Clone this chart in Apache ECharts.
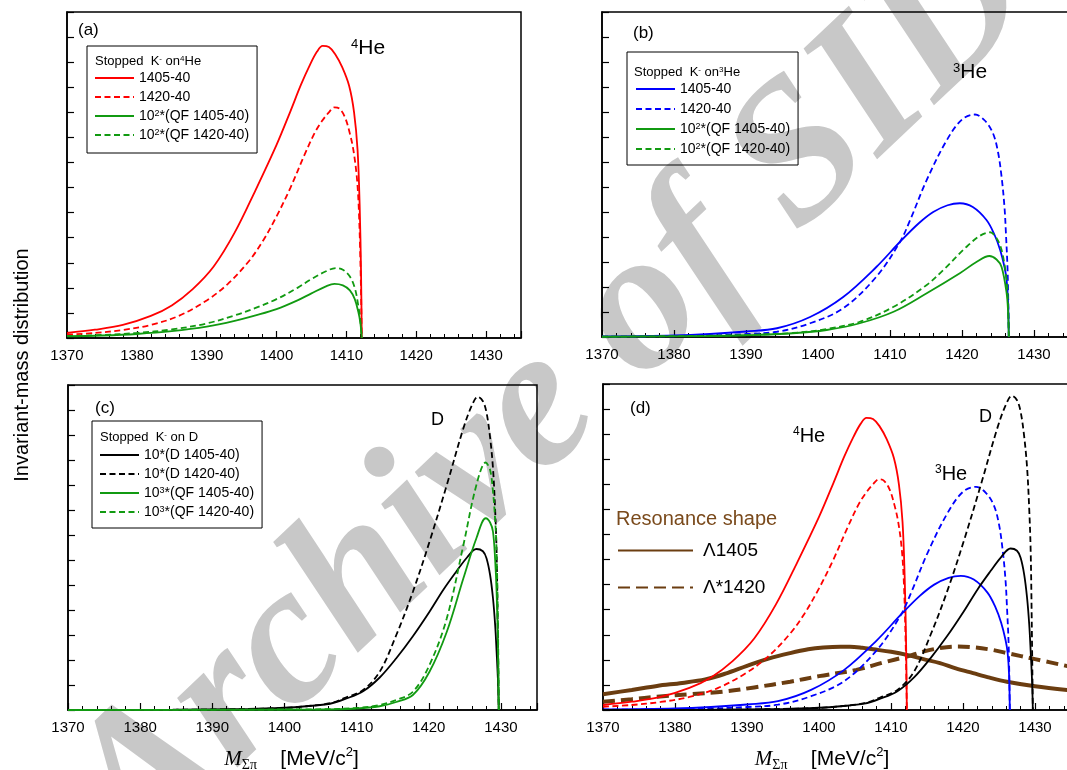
<!DOCTYPE html>
<html>
<head>
<meta charset="utf-8">
<script src="https://cdn.jsdelivr.net/npm/echarts/dist/echarts.min.js"></script>
<style>
  html, body { margin: 0; padding: 0; background: #fff; }
  #chart { width: 1067px; height: 770px; }
</style>
</head>
<body>
<div id="chart"></div>
<script>
  let FONT = 'Liberation Sans';
  let xTickLabels = [1370, 1380, 1390, 1400, 1410, 1420, 1430];

  // (a) stopped K- on 4He  [M, yield]
  let he4_1405 = [[1370,0.2],[1374,0.33],[1378,0.52],[1382,0.88],[1385,1.3],[1388,1.95],[1391,2.85],[1394,4.2],[1397,5.9],[1400,7.7],[1402,9.05],[1403.5,10.1],[1404.8,10.9],[1405.8,11.42],[1406.6,11.65],[1407.5,11.6],[1408.4,11.32],[1409.4,10.8],[1410.4,10.05],[1411.1,9.0],[1411.6,7.5],[1411.9,5.3],[1412.1,2.6],[1412.2,0]];
  let he4_1420 = [[1370,0.13],[1374,0.2],[1378,0.32],[1382,0.52],[1386,0.88],[1390,1.5],[1393,2.15],[1396,3.05],[1398,3.85],[1400,4.85],[1402,6.0],[1404,7.3],[1405.5,8.2],[1406.5,8.65],[1407.5,9.0],[1408.3,9.2],[1409,9.15],[1409.8,8.8],[1410.5,8.15],[1411,7.5],[1411.5,6.4],[1411.8,5.0],[1412.05,2.5],[1412.2,0]];
  let he4_qf1405 = [[1370,0.07],[1375,0.1],[1380,0.16],[1385,0.27],[1390,0.45],[1394,0.68],[1397,0.9],[1400,1.15],[1403,1.5],[1405,1.78],[1407,2.05],[1408.3,2.16],[1409.5,2.1],[1410.5,1.9],[1411.2,1.55],[1411.7,1.05],[1412,0.6],[1412.2,0]];
  let he4_qf1420 = [[1370,0.08],[1375,0.12],[1380,0.2],[1385,0.34],[1390,0.58],[1394,0.9],[1397,1.2],[1400,1.55],[1403,2.0],[1405,2.35],[1407,2.65],[1408.5,2.79],[1409.5,2.72],[1410.5,2.45],[1411.2,2.0],[1411.7,1.3],[1412,0.7],[1412.2,0]];

  // (b) stopped K- on 3He
  let he3_1405 = [[1370,0.02],[1380,0.06],[1385,0.12],[1390,0.22],[1394.3,0.35],[1398.9,0.8],[1403.5,1.6],[1408.1,2.8],[1411.4,3.81],[1414,4.55],[1416,5.0],[1418,5.27],[1419.7,5.35],[1421.5,5.2],[1423.4,4.68],[1424.5,4.1],[1425.3,3.48],[1425.9,2.8],[1426.2,2.28],[1426.4,1.4],[1426.5,0]];
  let he3_1420 = [[1370,0.01],[1380,0.03],[1385,0.06],[1390,0.12],[1394.3,0.21],[1398.9,0.55],[1403.5,1.15],[1408.1,2.41],[1411.4,3.81],[1412.8,4.68],[1415.1,6.28],[1417.9,7.88],[1420,8.7],[1421.8,8.9],[1423.2,8.65],[1424.3,8.15],[1425,7.4],[1425.5,6.4],[1425.9,5.2],[1426.1,4.15],[1426.35,2.5],[1426.5,0]];
  let he3_qf1405 = [[1370,0.01],[1385,0.04],[1390,0.07],[1396.5,0.15],[1401.2,0.28],[1405.8,0.55],[1410.5,1.01],[1415.1,1.75],[1419.7,2.55],[1422,3.0],[1423.8,3.24],[1424.8,3.1],[1425.5,2.8],[1426.2,1.75],[1426.4,1.0],[1426.5,0]];
  let he3_qf1420 = [[1370,0.01],[1385,0.05],[1390,0.08],[1396.5,0.16],[1401.2,0.32],[1405.8,0.61],[1410.5,1.21],[1415.1,2.08],[1417.4,2.68],[1420.6,3.6],[1422.5,4.05],[1423.9,4.19],[1424.8,3.95],[1425.5,3.48],[1426.2,2.28],[1426.4,1.3],[1426.5,0]];

  // (c) stopped K- on D
  let d_1405 = [[1370,0],[1385,0.01],[1395,0.04],[1400,0.09],[1403,0.15],[1406.3,0.25],[1408.5,0.45],[1410.9,0.75],[1413.2,1.3],[1415.5,2.07],[1417.8,2.95],[1420.1,3.93],[1422,4.8],[1423.8,5.53],[1425.3,6.1],[1426.6,6.44],[1427.5,6.35],[1428,6.07],[1428.5,5.4],[1428.9,4.47],[1429.2,3.4],[1429.4,2.33],[1429.6,1.1],[1429.7,0]];
  let d_1420 = [[1370,0],[1385,0.01],[1395,0.04],[1400,0.08],[1403,0.15],[1406.3,0.27],[1408.5,0.5],[1410.9,0.8],[1413.2,1.53],[1415.5,3.0],[1417.8,4.73],[1420.1,6.73],[1422.5,9.0],[1424.8,11.27],[1426,12.2],[1426.8,12.53],[1427.5,12.35],[1428,11.9],[1428.5,10.9],[1428.9,9.67],[1429.2,8.0],[1429.4,6.33],[1429.55,3.5],[1429.7,0]];
  let d_qf1405 = [[1370,0],[1405,0.02],[1410,0.06],[1413.2,0.15],[1415.5,0.32],[1417.8,0.6],[1420.1,1.53],[1422.5,3.13],[1424.8,5.27],[1426.6,6.87],[1427.9,7.67],[1428.5,7.5],[1428.9,7.13],[1429.2,6.0],[1429.4,4.73],[1429.6,2.4],[1429.7,0]];
  let d_qf1420 = [[1370,0],[1405,0.03],[1410,0.08],[1413.2,0.2],[1415.5,0.4],[1417.8,0.73],[1420.1,1.8],[1422.5,3.67],[1424.8,6.6],[1426.6,9.0],[1427.9,9.9],[1428.5,9.6],[1428.9,8.73],[1429.2,7.6],[1429.4,6.33],[1429.6,3.2],[1429.7,0]];

  // (d) resonance shapes
  let res_1405 = [[1370,0.63],[1374,0.8],[1377.5,0.96],[1381,1.08],[1384.2,1.22],[1387,1.45],[1390,1.76],[1393,2.05],[1396,2.27],[1398.5,2.42],[1400.6,2.49],[1403,2.52],[1404.3,2.52],[1406,2.48],[1407.5,2.42],[1410,2.32],[1412.2,2.2],[1414.5,2.03],[1416.8,1.87],[1419,1.66],[1421.4,1.47],[1423.7,1.29],[1426.1,1.13],[1430,0.95],[1435,0.78]];
  let res_1420 = [[1370,0.33],[1374,0.43],[1377.5,0.53],[1382,0.63],[1386.7,0.73],[1391,0.9],[1396,1.13],[1400,1.35],[1405.2,1.6],[1409,1.9],[1412.2,2.13],[1414.5,2.33],[1416.8,2.47],[1419.1,2.53],[1421.4,2.5],[1424,2.4],[1426.1,2.27],[1430,2.03],[1435,1.72]];

  let legendText = {
    a1: '1405-40', a2: '1420-40', a3: '10{sup|2}*(QF 1405-40)', a4: '10{sup|2}*(QF 1420-40)',
    b1: '1405-40', b2: '1420-40', b3: '10{sup|2}*(QF 1405-40)', b4: '10{sup|2}*(QF 1420-40)',
    c1: '10*(D 1405-40)', c2: '10*(D 1420-40)', c3: '10{sup|3}*(QF 1405-40)', c4: '10{sup|3}*(QF 1420-40)',
    r1: 'Λ1405', r2: 'Λ*1420'
  };

  let RED = '#ff0000', BLUE = '#0000ff', GREEN = '#119a11', BLACK = '#000000', BROWN = '#6b3d10';

  function line(name, data, idx, color, dashed, width, dash) {
    return {
      name: name, type: 'line', xAxisIndex: idx, yAxisIndex: idx, data: data,
      symbol: 'none', smooth: 0.35, silent: true,
      lineStyle: {color: color, width: width || 1.8, type: dashed ? (dash || [6, 3.5]) : 'solid'},
      itemStyle: {color: color}
    };
  }

  function xAxis(idx, name, pad) {
    return {
      gridIndex: idx, type: 'value', min: 1370, max: 1435, interval: 10,
      axisLine: {onZero: false, lineStyle: {color: '#000', width: 1.6}},
      axisTick: {inside: true, length: 7, lineStyle: {color: '#000', width: 1.2}},
      minorTick: {show: true, splitNumber: 5, length: 4, lineStyle: {color: '#000', width: 1}},
      axisLabel: {
        margin: 10, fontSize: 15, color: '#000', fontFamily: FONT,
        formatter: function (v) { return xTickLabels.indexOf(v) >= 0 ? String(v) : ''; }
      },
      splitLine: {show: false},
      name: name || '', nameLocation: 'middle', nameGap: 36,
      nameTextStyle: {
        fontSize: 21, fontFamily: FONT, color: '#000', padding: [0, pad || 0, 0, 0],
        rich: {
          m: {fontSize: 21, fontFamily: 'Liberation Serif', fontStyle: 'italic', color: '#000'},
          s: {fontSize: 14, fontFamily: 'Liberation Serif', verticalAlign: 'bottom', color: '#000', padding: [12, 0, 0, 0]},
          p: {fontSize: 13, fontFamily: FONT, verticalAlign: 'top', color: '#000'}
        }
      }
    };
  }

  function yAxis(idx) {
    return {
      gridIndex: idx, type: 'value', min: 0, max: 13, interval: 1,
      axisLine: {show: true, lineStyle: {color: '#000', width: 1.6}},
      axisTick: {show: true, inside: true, length: 7, lineStyle: {color: '#000', width: 1.2}},
      axisLabel: {show: false}, splitLine: {show: false}
    };
  }

  // legend symbol hidden, only the line sample is kept
  let noSymbol = {color: 'transparent', borderColor: 'transparent', borderWidth: 0, opacity: 0};

  function legend(names, left, top, padding, gap) {
    return {
      data: names, orient: 'vertical', left: left, top: top, padding: padding,
      itemGap: gap, itemWidth: 39, itemHeight: 14, selectedMode: false,
      borderColor: '#000', borderWidth: 1, borderRadius: 0,
      itemStyle: noSymbol,
      formatter: function (n) { return legendText[n]; },
      textStyle: {
        fontSize: 14, fontFamily: FONT, color: '#000',
        rich: {sup: {fontSize: 9, fontFamily: FONT, verticalAlign: 'top', color: '#000'}}
      }
    };
  }

  function label(x, y, text, size, color, family) {
    return {
      type: 'text', x: x, y: y, z: 50,
      style: {
        text: text, fontSize: size, fontFamily: family || FONT, fill: color || '#000',
        verticalAlign: 'middle',
        rich: {sup: {fontSize: Math.round(size * 0.62), fontFamily: family || FONT, verticalAlign: 'top', fill: color || '#000'}}
      }
    };
  }

  let axisName = '{m|M}{s|Σπ}    [MeV/c{p|2}]';

  function grid(left, top, width, height) {
    return {left: left, top: top, width: width, height: height, outerBoundsMode: 'none',
      containLabel: false, show: true, borderColor: '#000', borderWidth: 1.5};
  }

  let option = {
    animation: false,
    backgroundColor: '#fff',
    grid: [grid(67, 12, 454, 326), grid(602, 12, 468, 325), grid(68, 385, 469, 325), grid(603, 384, 468, 326)],
    xAxis: [xAxis(0), xAxis(1), xAxis(2, axisName, 22), xAxis(3, axisName, 30)],
    yAxis: [yAxis(0), yAxis(1), yAxis(2), yAxis(3)],
    legend: [
      legend(['a1', 'a2', 'a3', 'a4'], 87, 46, [25, 8, 11, 7], 5),
      legend(['b1', 'b2', 'b3', 'b4'], 627, 52, [30, 8, 9, 8], 6),
      legend(['c1', 'c2', 'c3', 'c4'], 92, 421, [27, 8, 9, 7], 5),
      {
        data: ['r1', 'r2'], orient: 'vertical', left: 617, top: 541, padding: 0,
        itemGap: 18, itemWidth: 75, itemHeight: 20, selectedMode: false,
        itemStyle: noSymbol,
        formatter: function (n) { return legendText[n]; },
        textStyle: {fontSize: 19, fontFamily: FONT, color: '#000', padding: [0, 0, 0, 5]}
      }
    ],
    graphic: [
      {
        type: 'text', x: 553, y: 396, rotation: 0.76, z: -10,
        style: {
          text: 'Archive of SID', fontSize: 200, fontFamily: 'Liberation Serif',
          fontWeight: 'bold', fontStyle: 'italic', fill: '#c8c8c8',
          align: 'center', verticalAlign: 'middle'
        }
      },
      {
        type: 'text', x: 22, y: 365, rotation: Math.PI / 2, z: 50,
        style: {text: 'Invariant-mass distribution', fontSize: 20, fontFamily: FONT, fill: '#000', align: 'center', verticalAlign: 'middle'}
      },
      label(78, 30, '(a)', 17),
      label(633, 33, '(b)', 17),
      label(95, 408, '(c)', 17),
      label(630, 408, '(d)', 17),
      label(351, 48, '{sup|4}He', 21),
      label(953, 72, '{sup|3}He', 21),
      label(431, 420, 'D', 18),
      label(793, 436, '{sup|4}He', 20),
      label(935, 474, '{sup|3}He', 20),
      label(979, 417, 'D', 18),
      label(95, 61, 'Stopped  K{sup|-} on{sup|4}He', 13),
      label(634, 72, 'Stopped  K{sup|-} on{sup|3}He', 13),
      label(100, 437, 'Stopped  K{sup|-} on D', 13),
      label(616, 519, 'Resonance shape', 20, '#7a4a1c')
    ],
    series: [
      line('a1', he4_1405, 0, RED, false),
      line('a2', he4_1420, 0, RED, true),
      line('a3', he4_qf1405, 0, GREEN, false),
      line('a4', he4_qf1420, 0, GREEN, true),

      line('b1', he3_1405, 1, BLUE, false),
      line('b2', he3_1420, 1, BLUE, true),
      line('b3', he3_qf1405, 1, GREEN, false),
      line('b4', he3_qf1420, 1, GREEN, true),

      line('c1', d_1405, 2, BLACK, false),
      line('c2', d_1420, 2, BLACK, true),
      line('c3', d_qf1405, 2, GREEN, false),
      line('c4', d_qf1420, 2, GREEN, true),

      line('r1', res_1405, 3, BROWN, false, 4),
      line('r2', res_1420, 3, BROWN, true, 4, [12, 6]),
      line('d1', he4_1405, 3, RED, false),
      line('d2', he4_1420, 3, RED, true),
      line('d3', he3_1405, 3, BLUE, false),
      line('d4', he3_1420, 3, BLUE, true),
      line('d5', d_1405, 3, BLACK, false),
      line('d6', d_1420, 3, BLACK, true)
    ]
  };

  let myChart = echarts.init(document.getElementById('chart'));
  myChart.setOption(option, true);
</script>
</body>
</html>
